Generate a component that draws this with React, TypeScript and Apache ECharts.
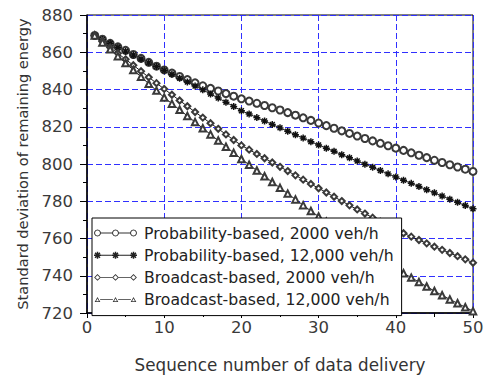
import React, { useEffect, useRef } from 'react';
import * as echarts from 'echarts';

const sequence = [1, 2, 3, 4, 5, 6, 7, 8, 9, 10, 11, 12, 13, 14, 15, 16, 17, 18, 19, 20, 21, 22, 23, 24, 25, 26, 27, 28, 29, 30, 31, 32, 33, 34, 35, 36, 37, 38, 39, 40, 41, 42, 43, 44, 45, 46, 47, 48, 49, 50];

const probability2000 = [869.0, 867.0, 864.8, 862.9, 861.0, 858.8, 856.7, 854.6, 852.5, 850.5, 848.8, 847.0, 845.3, 843.6, 842.0, 840.6, 839.2, 837.8, 836.4, 835.0, 833.8, 832.6, 831.4, 830.2, 829.0, 827.6, 826.2, 824.8, 823.4, 822.0, 820.6, 819.2, 817.8, 816.4, 815.0, 813.7, 812.4, 811.1, 809.8, 808.5, 807.3, 806.0, 804.7, 803.4, 802.0, 800.8, 799.6, 798.4, 797.2, 796.0];

const probability12000 = [869.0, 866.9, 864.8, 862.7, 860.6, 858.5, 856.4, 854.3, 852.3, 850.3, 848.2, 846.1, 844.0, 841.9, 839.8, 837.6, 835.4, 833.2, 830.9, 828.6, 826.8, 824.9, 823.1, 821.2, 819.4, 817.6, 815.7, 813.9, 812.0, 810.2, 808.5, 806.8, 805.0, 803.3, 801.6, 799.9, 798.2, 796.5, 794.7, 793.0, 791.3, 789.6, 787.9, 786.2, 784.5, 782.8, 781.1, 779.4, 777.7, 776.0];

const broadcast2000 = [869.0, 865.8, 862.6, 859.4, 856.2, 853.0, 849.8, 846.6, 843.4, 840.3, 837.2, 834.1, 831.0, 827.9, 824.9, 821.9, 818.9, 815.9, 812.9, 810.0, 807.7, 805.4, 803.1, 800.8, 798.5, 796.2, 793.9, 791.6, 789.3, 787.0, 784.7, 782.4, 780.1, 777.8, 775.6, 773.4, 771.2, 769.0, 766.8, 764.6, 762.8, 761.0, 759.2, 757.4, 755.6, 753.9, 752.2, 750.5, 748.8, 747.0];

const broadcast12000 = [869.0, 865.3, 861.6, 857.9, 854.2, 850.5, 846.8, 843.1, 839.4, 835.7, 832.4, 829.1, 825.8, 822.5, 819.2, 815.9, 812.6, 809.3, 806.0, 802.7, 799.6, 796.5, 793.4, 790.3, 787.2, 784.1, 781.0, 777.9, 774.8, 771.8, 769.0, 766.2, 763.4, 760.6, 757.8, 755.0, 752.2, 749.4, 746.6, 743.8, 741.4, 739.0, 736.6, 734.2, 731.8, 729.5, 727.3, 725.2, 723.1, 721.0];

const seriesNames = [
  'Probability-based, 2000 veh/h',
  'Probability-based, 12,000 veh/h',
  'Broadcast-based, 2000 veh/h',
  'Broadcast-based, 12,000 veh/h',
];

const xAxisName = 'Sequence number of data delivery';
const yAxisName = 'Standard deviation of remaining energy';

// ---------- path helpers for symbols / legend icons ----------
type Pt = [number, number];

function orient(pts: Pt[], cw: boolean): Pt[] {
  let a = 0;
  for (let i = 0; i < pts.length; i++) {
    const p = pts[i];
    const q = pts[(i + 1) % pts.length];
    a += p[0] * q[1] - q[0] * p[1];
  }
  const isCw = a > 0;
  return isCw === cw ? pts : pts.slice().reverse();
}

function poly(pts: Pt[]): string {
  return 'M' + pts.map((p) => p[0].toFixed(3) + ',' + p[1].toFixed(3)).join('L') + 'Z';
}

function circlePts(cx: number, cy: number, r: number): Pt[] {
  const n = 28;
  const out: Pt[] = [];
  for (let i = 0; i < n; i++) {
    const a = (2 * Math.PI * i) / n;
    out.push([cx + r * Math.cos(a), cy + r * Math.sin(a)]);
  }
  return out;
}

function ring(cx: number, cy: number, r: number, t: number): string {
  return poly(orient(circlePts(cx, cy, r), true)) + poly(orient(circlePts(cx, cy, r - t), false));
}

function diamondRing(cx: number, cy: number, r: number, t: number): string {
  const d = (rr: number): Pt[] => [[cx, cy - rr], [cx + rr, cy], [cx, cy + rr], [cx - rr, cy]];
  return poly(orient(d(r), true)) + poly(orient(d(r - t * 1.41), false));
}

function triangleRing(cx: number, cy: number, w: number, h: number, t: number): string {
  const tri = (ww: number, hh: number, oy: number): Pt[] => [
    [cx, cy - hh / 2 + oy],
    [cx + ww / 2, cy + hh / 2 + oy],
    [cx - ww / 2, cy + hh / 2 + oy],
  ];
  return poly(orient(tri(w, h, 0), true)) + poly(orient(tri(w - t * 3.4, h - t * 2.9, t * 0.25), false));
}

function rect(x1: number, y1: number, x2: number, y2: number): string {
  return poly(orient([[x1, y1], [x2, y1], [x2, y2], [x1, y2]], true));
}

function bar(cx: number, cy: number, len: number, hw: number, ang: number): string {
  const dx = Math.cos(ang), dy = Math.sin(ang);
  const px = -dy, py = dx;
  const L = len / 2;
  const pts: Pt[] = [
    [cx - dx * L - px * hw, cy - dy * L - py * hw],
    [cx + dx * L - px * hw, cy + dy * L - py * hw],
    [cx + dx * L + px * hw, cy + dy * L + py * hw],
    [cx - dx * L + px * hw, cy - dy * L + py * hw],
  ];
  return poly(orient(pts, true));
}

function star(cx: number, cy: number, s: number, hw: number): string {
  return (
    bar(cx, cy, s, hw, 0) +
    bar(cx, cy, s, hw, Math.PI / 2) +
    bar(cx, cy, s, hw, Math.PI / 4) +
    bar(cx, cy, s, hw, -Math.PI / 4)
  );
}

const ICON_W = 45;
const ICON_H = 7;
const CY = 3.5;
const CENTERS = [3.5, 21.5, 39.5];
const pad = 'M0,0L0.01,0L0,0.01Z' + 'M' + ICON_W + ',' + ICON_H + 'L' + (ICON_W - 0.01) + ',' + ICON_H + 'L' + ICON_W + ',' + (ICON_H - 0.01) + 'Z';

function segmentsBetween(halfGap: number): string {
  let s = '';
  for (let i = 0; i < CENTERS.length - 1; i++) {
    s += rect(CENTERS[i] + halfGap, CY - 0.45, CENTERS[i + 1] - halfGap, CY + 0.45);
  }
  return s;
}

const iconCircle = 'path://' + pad + segmentsBetween(3.3) + CENTERS.map((c) => ring(c, CY, 3.4, 0.95)).join('');
const iconStar = 'path://' + pad + rect(CENTERS[0], CY - 0.45, CENTERS[2], CY + 0.45) + CENTERS.map((c) => star(c, CY, 7, 0.75)).join('');
const iconDiamond = 'path://' + pad + segmentsBetween(3.3) + CENTERS.map((c) => diamondRing(c, CY, 3.4, 0.85)).join('');
const iconTriangle = 'path://' + pad + segmentsBetween(2.6) + CENTERS.map((c) => triangleRing(c, CY, 5.6, 5, 0.8)).join('');

const starSymbol = 'path://' + star(5, 5, 10, 1.05);

const FONT = 'DejaVu Sans';

function pairs(ys: number[]): number[][] {
  return sequence.map((x, i) => [x, ys[i]]);
}

export default function App() {
  const ref = useRef<HTMLDivElement>(null);

  useEffect(() => {
    if (!ref.current) return;
    const chart = echarts.init(ref.current, undefined, { renderer: 'svg' });

    const markerStroke = '#3a3a3a';
    const lineStyle = { color: '#000', width: 0.9 };

    const option: any = {
      animation: false,
      backgroundColor: '#fff',
      grid: {
        left: 87,
        right: 18,
        top: 15,
        bottom: 60,
        show: true,
        borderColor: '#000',
        borderWidth: 1,
        backgroundColor: 'transparent',
      },
      legend: {
        orient: 'vertical',
        left: 92,
        top: 218,
        padding: [7, 8, 8, 2],
        backgroundColor: '#fff',
        borderColor: '#000',
        borderWidth: 1,
        borderRadius: 0,
        itemWidth: ICON_W,
        itemHeight: ICON_H,
        itemGap: 6.2,
        selectedMode: false,
        textStyle: { fontFamily: FONT, fontSize: 15.7, color: '#222', lineHeight: 16 },
        data: [
          { name: seriesNames[0], icon: iconCircle, itemStyle: { color: '#333', borderWidth: 0 } },
          { name: seriesNames[1], icon: iconStar, itemStyle: { color: '#222', borderWidth: 0 } },
          { name: seriesNames[2], icon: iconDiamond, itemStyle: { color: '#333', borderWidth: 0 } },
          { name: seriesNames[3], icon: iconTriangle, itemStyle: { color: '#333', borderWidth: 0 } },
        ],
      },
      xAxis: {
        type: 'value',
        min: 0,
        max: 50,
        interval: 10,
        name: xAxisName,
        nameLocation: 'middle',
        nameGap: 43,
        nameTextStyle: { fontFamily: FONT, fontSize: 16.8, color: '#333' },
        axisLine: { show: true, onZero: false, lineStyle: { color: '#000', width: 1.5 } },
        axisTick: { show: true, inside: false, length: 5, lineStyle: { color: '#000', width: 1 } },
        minorTick: { show: true, splitNumber: 2, length: 4, lineStyle: { color: '#000', width: 1 } },
        axisLabel: { fontFamily: FONT, fontSize: 16.5, color: '#3a3a3a', margin: 6 },
        splitLine: { show: true, lineStyle: { color: '#3030ff', width: 1, type: [6, 3] } },
      },
      yAxis: {
        type: 'value',
        min: 720,
        max: 880,
        interval: 20,
        name: yAxisName,
        nameLocation: 'middle',
        nameGap: 57,
        nameTextStyle: { fontFamily: FONT, fontSize: 14.6, color: '#333' },
        axisLine: { show: true, onZero: false, lineStyle: { color: '#000', width: 1.5 } },
        axisTick: { show: true, inside: false, length: 7, lineStyle: { color: '#000', width: 1 } },
        minorTick: { show: true, splitNumber: 2, length: 4, lineStyle: { color: '#000', width: 1 } },
        axisLabel: { fontFamily: FONT, fontSize: 16.5, color: '#3a3a3a', margin: 14 },
        splitLine: { show: true, lineStyle: { color: '#3030ff', width: 1, type: [6, 3] } },
      },
      series: [
        {
          name: seriesNames[0],
          type: 'line',
          data: pairs(probability2000),
          symbol: 'emptyCircle',
          symbolSize: 7,
          lineStyle,
          itemStyle: { color: markerStroke, borderColor: markerStroke, borderWidth: 1 },
        },
        {
          name: seriesNames[1],
          type: 'line',
          data: pairs(probability12000),
          symbol: starSymbol,
          symbolSize: 7,
          lineStyle,
          itemStyle: { color: '#111', borderWidth: 0 },
        },
        {
          name: seriesNames[2],
          type: 'line',
          data: pairs(broadcast2000),
          symbol: 'emptyDiamond',
          symbolSize: 6,
          lineStyle,
          itemStyle: { color: markerStroke, borderColor: markerStroke, borderWidth: 0.9 },
        },
        {
          name: seriesNames[3],
          type: 'line',
          data: pairs(broadcast12000),
          symbol: 'emptyTriangle',
          symbolSize: 6.5,
          lineStyle,
          itemStyle: { color: markerStroke, borderColor: markerStroke, borderWidth: 0.75 },
        },
      ],
    };

    chart.setOption(option);
    return () => {
      chart.dispose();
    };
  }, []);

  return (
    <div
      ref={ref}
      style={{ position: 'fixed', left: 0, top: 0, width: 491, height: 378, background: '#fff' }}
    />
  );
}
